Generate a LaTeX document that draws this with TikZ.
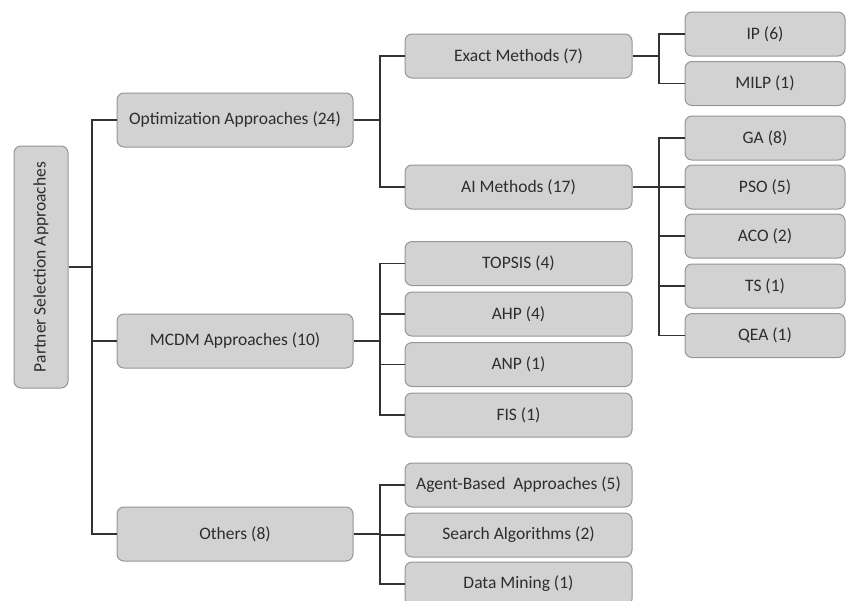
\documentclass[tikz,border=0pt]{standalone}
\usepackage{fontspec}
\setmainfont{Carlito}
\definecolor{boxfill}{RGB}{210,210,210}
\definecolor{boxedge}{RGB}{150,150,150}
\definecolor{txt}{RGB}{45,45,45}
\definecolor{wire}{RGB}{50,50,50}
\tikzset{
  gbox/.style={draw=boxedge, fill=boxfill, rounded corners=7pt, line width=1pt,
    text=txt, font=\fontsize{17.5}{20}\selectfont, inner sep=0pt, align=center},
  lvlone/.style={gbox, minimum width=236pt, minimum height=54pt},
  lvltwo/.style={gbox, minimum width=227pt, minimum height=44pt},
  lvlthree/.style={gbox, minimum width=160pt, minimum height=44pt},
  wireline/.style={draw=wire, line width=1.2pt}
}
\begin{document}
\begin{tikzpicture}[x=1pt,y=-1pt]
\useasboundingbox (0,0) rectangle (846,600);
\clip (0,0) rectangle (846,600);
% root
\node[gbox, minimum width=242pt, minimum height=54pt, rotate=90] (root) at (41,267) {Partner Selection Approaches};
% level 1
\node[lvlone] (opt) at (235,120) {Optimization Approaches (24)};
\node[lvlone] (mcdm) at (235,341) {MCDM Approaches (10)};
\node[lvlone] (oth) at (235,534) {Others (8)};
% level 2
\node[lvltwo] (exact) at (518.5,56) {Exact Methods (7)};
\node[lvltwo] (ai) at (518.5,187) {AI Methods (17)};
\node[lvltwo] (topsis) at (518.5,263.5) {TOPSIS (4)};
\node[lvltwo] (ahp) at (518.5,314) {AHP (4)};
\node[lvltwo] (anp) at (518.5,364.5) {ANP (1)};
\node[lvltwo] (fis) at (518.5,415) {FIS (1)};
\node[lvltwo] (agent) at (518.5,485) {Agent-Based\ \ Approaches (5)};
\node[lvltwo] (search) at (518.5,535) {Search Algorithms (2)};
\node[lvltwo] (dm) at (518.5,584) {Data Mining (1)};
% level 3
\node[lvlthree] (ip) at (765,34) {IP (6)};
\node[lvlthree] (milp) at (765,83.5) {MILP (1)};
\node[lvlthree] (ga) at (765,138) {GA (8)};
\node[lvlthree] (pso) at (765,187) {PSO (5)};
\node[lvlthree] (aco) at (765,236) {ACO (2)};
\node[lvlthree] (ts) at (765,286) {TS (1)};
\node[lvlthree] (qea) at (765,335.5) {QEA (1)};
% trunk coordinates
\coordinate (ta) at (92,0);
\coordinate (tb) at (380,0);
\coordinate (tc) at (659,0);
% root connectors
\draw[wireline] (root.south) -- (root.south -| ta);
\draw[wireline] (opt.west) -- (opt.west -| ta) -- (oth.west -| ta) -- (oth.west);
\draw[wireline] (mcdm.west) -- (mcdm.west -| ta);
% optimization
\draw[wireline] (opt.east) -- (opt.east -| tb);
\draw[wireline] (exact.west) -- (exact.west -| tb) -- (ai.west -| tb) -- (ai.west);
% exact
\draw[wireline] (exact.east) -- (exact.east -| tc);
\draw[wireline] (ip.west) -- (ip.west -| tc) -- (milp.west -| tc) -- (milp.west);
% ai
\draw[wireline] (ai.east) -- (pso.west);
\draw[wireline] (ga.west) -- (ga.west -| tc) -- (qea.west -| tc) -- (qea.west);
\draw[wireline] (aco.west) -- (aco.west -| tc);
\draw[wireline] (ts.west) -- (ts.west -| tc);
% mcdm
\draw[wireline] (mcdm.east) -- (mcdm.east -| tb);
\draw[wireline] (topsis.west) -- (topsis.west -| tb) -- (fis.west -| tb) -- (fis.west);
\draw[wireline] (ahp.west) -- (ahp.west -| tb);
\draw[wireline] (anp.west) -- (anp.west -| tb);
% others
\draw[wireline] (oth.east) -- (oth.east -| tb);
\draw[wireline] (agent.west) -- (agent.west -| tb) -- (dm.west -| tb) -- (dm.west);
\draw[wireline] (search.west) -- (search.west -| tb);
\end{tikzpicture}
\end{document}
